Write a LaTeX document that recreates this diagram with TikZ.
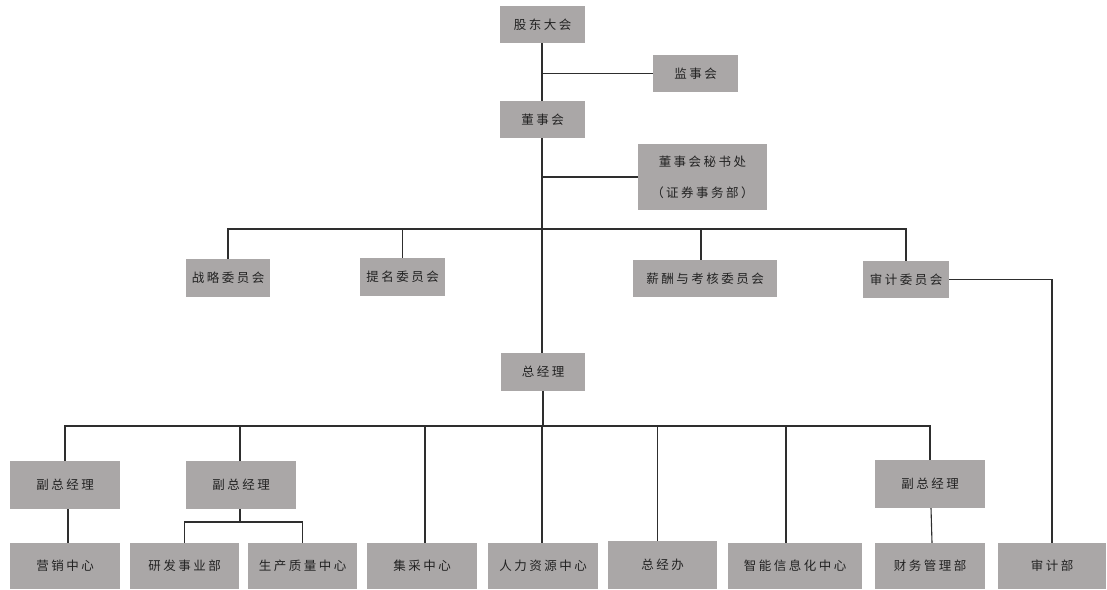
\documentclass[tikz,border=0pt]{standalone}
\usepackage{fontspec}
\newfontfamily\cjk[LetterSpace=20]{Noto Sans CJK SC}
\definecolor{boxgray}{HTML}{AAA7A7}
\definecolor{txtc}{HTML}{222222}
\definecolor{linec}{HTML}{2E2E2E}
\tikzset{
  box/.style={rectangle, fill=boxgray, inner sep=0pt, text=txtc,
    font=\cjk\fontsize{12.5}{14}\selectfont, align=center},
  conn/.style={draw=linec, line width=1.1pt}
}
\begin{document}
\begin{tikzpicture}[x=1pt,y=-1pt]
\useasboundingbox[fill=white] (0,0) rectangle (1107,589);
% top
\node[box, minimum width=85, minimum height=37] (gd) at (542.5,24.5) {股东大会};
\node[box, minimum width=85, minimum height=37] (js) at (695.5,73.5) {监事会};
\node[box, minimum width=85, minimum height=37] (dsh) at (542.5,119.5) {董事会};
\node[box, minimum width=129, minimum height=66] (ms) at (702.5,177) {董事会秘书处\\[17pt]（证券事务部）};
% committees
\node[box, minimum width=84, minimum height=38] (zl) at (228,278) {战略委员会};
\node[box, minimum width=85, minimum height=38] (tm) at (402.5,277) {提名委员会};
\node[box, minimum width=144, minimum height=37] (xc) at (705,278.5) {薪酬与考核委员会};
\node[box, minimum width=86, minimum height=37] (sj) at (906,279.5) {审计委员会};
% general manager
\node[box, minimum width=84, minimum height=38] (zjl) at (543,372) {总经理};
% deputies
\node[box, minimum width=110, minimum height=48] (f1) at (65,485) {副总经理};
\node[box, minimum width=110, minimum height=48] (f2) at (241,485) {副总经理};
\node[box, minimum width=110, minimum height=48] (f3) at (930,484) {副总经理};
% bottom row
\node[box, minimum width=110, minimum height=46] (yx) at (65,566) {营销中心};
\node[box, minimum width=109, minimum height=46] (yf) at (184.5,566) {研发事业部};
\node[box, minimum width=109, minimum height=46] (sc) at (302.5,566) {生产质量中心};
\node[box, minimum width=110, minimum height=46] (jc) at (422,566) {集采中心};
\node[box, minimum width=110, minimum height=46] (rl) at (543,566) {人力资源中心};
\node[box, minimum width=109, minimum height=48] (zjb) at (662.5,565) {总经办};
\node[box, minimum width=134, minimum height=46] (zn) at (795,566) {智能信息化中心};
\node[box, minimum width=110, minimum height=46] (cw) at (930,566) {财务管理部};
\node[box, minimum width=108, minimum height=46] (sjb) at (1052,566) {审计部};
% bar coordinates
\coordinate (bar1) at (0,229);
\coordinate (bar2) at (0,426);
\coordinate (bar3) at (0,522);
% trunk
\draw[conn] ([xshift=-0.5pt]gd.south) -- ([xshift=-0.5pt]dsh.north);
\draw[conn] ([xshift=-0.5pt]dsh.south) -- ([xshift=-0.5pt]dsh.south |- zjl.north);
\draw[conn] ([xshift=-0.5pt]gd.south |- js.west) -- (js.west);
\draw[conn] ([xshift=-0.5pt]dsh.south |- ms.west) -- (ms.west);
% committees
\draw[conn] (zl.north) -- (zl.north |- bar1) -- (sj.north |- bar1) -- (sj.north);
\draw[conn] (tm.north) -- (tm.north |- bar1);
\draw[conn] ([xshift=-4pt]xc.north) -- ([xshift=-4pt]xc.north |- bar1);
\draw[conn] (sj.east) -| (sjb.north);
% managers
\draw[conn] (zjl.south) -- (zjl.south |- bar2);
\draw[conn] (f1.north) -- (f1.north |- bar2) -- (f3.north |- bar2) -- (f3.north);
\draw[conn] ([xshift=-1pt]f2.north) -- ([xshift=-1pt]f2.north |- bar2);
\draw[conn] ([xshift=3pt]jc.north) -- ([xshift=3pt]jc.north |- bar2);
\draw[conn] ([xshift=-1pt]rl.north) -- ([xshift=-1pt]rl.north |- bar2);
\draw[conn] ([xshift=-5pt]zjb.north) -- ([xshift=-5pt]zjb.north |- bar2);
\draw[conn] ([xshift=-9pt]zn.north) -- ([xshift=-9pt]zn.north |- bar2);
% deputies to departments
\draw[conn] ([xshift=3pt]f1.south) -- ([xshift=3pt]yx.north);
\draw[conn] ([xshift=-1pt]f2.south) -- ([xshift=-1pt]f2.south |- bar3);
\draw[conn] (yf.north) -- (yf.north |- bar3) -- (sc.north |- bar3) -- (sc.north);
\draw[conn] ([xshift=1pt]f3.south) -- ([xshift=2pt]cw.north);
\end{tikzpicture}
\end{document}
